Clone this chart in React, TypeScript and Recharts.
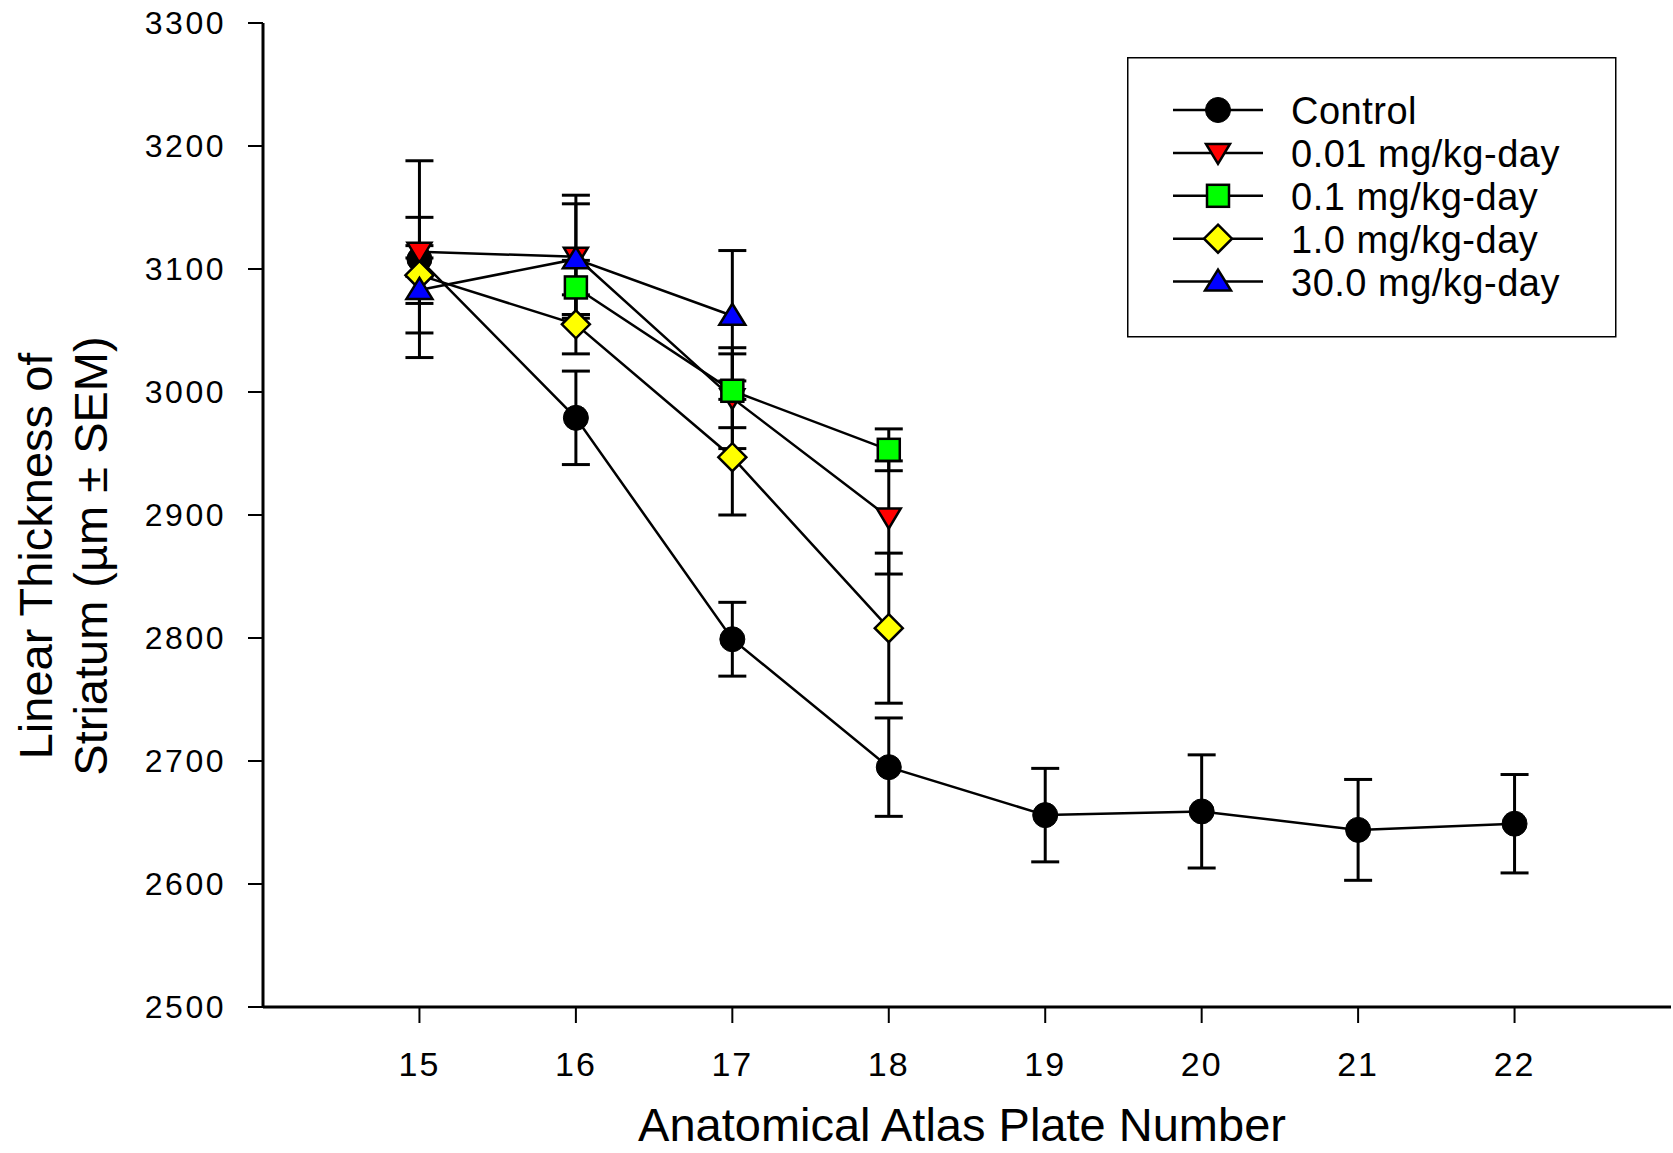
import { LineChart, Line, XAxis, YAxis, ErrorBar, Legend } from 'recharts'

const FONT = '"Liberation Sans", Arial, Helvetica, sans-serif'

// plate numbers on the x axis
const plates = [15, 16, 17, 18, 19, 20, 21, 22]
const yTicks = [2500, 2600, 2700, 2800, 2900, 3000, 3100, 3200, 3300]

// means and SEM (µm)
const control = [3108, 2979, 2799, 2695, 2656, 2659, 2644, 2649]
const controlSem = [80, 38, 30, 40, 38, 46, 41, 40]
const dose001 = [3114, 3110, 2995, 2898]
const dose001Sem = [5, 50, 41, 46]
const dose01 = [null, 3085, 3001, 2953]
const dose01Sem = [null, 22, 30, 17]
const dose1 = [3095, 3055, 2947, 2808]
const dose1Sem = [47, 24, 47, 61]
const dose30 = [3083, 3108, 3062]
const dose30Sem = [11, 45, 53]

type Shape = 'circle' | 'triangleDown' | 'square' | 'diamond' | 'triangleUp'

const series: { key: string; name: string; shape: Shape; fill: string }[] = [
  { key: 'control', name: 'Control', shape: 'circle', fill: '#000000' },
  { key: 'd001', name: '0.01 mg/kg-day', shape: 'triangleDown', fill: '#ff0000' },
  { key: 'd01', name: '0.1 mg/kg-day', shape: 'square', fill: '#00ff00' },
  { key: 'd1', name: '1.0 mg/kg-day', shape: 'diamond', fill: '#ffff00' },
  { key: 'd30', name: '30.0 mg/kg-day', shape: 'triangleUp', fill: '#0000ff' },
]

const rows = plates.map((p, i) => ({
  plate: p,
  control: control[i] ?? null, controlSem: controlSem[i] ?? null,
  d001: dose001[i] ?? null, d001Sem: dose001Sem[i] ?? null,
  d01: dose01[i] ?? null, d01Sem: dose01Sem[i] ?? null,
  d1: dose1[i] ?? null, d1Sem: dose1Sem[i] ?? null,
  d30: dose30[i] ?? null, d30Sem: dose30Sem[i] ?? null,
}))

function Marker({ cx, cy, shape, fill }: { cx: number; cy: number; shape: Shape; fill: string }) {
  const st = { stroke: '#000', strokeWidth: 2.5, strokeLinejoin: 'miter' as const }
  switch (shape) {
    case 'circle':
      return <circle cx={cx} cy={cy} r={12.5} fill={fill} stroke="#000" strokeWidth={1} />
    case 'triangleDown':
      return <polygon points={`${cx - 12},${cy - 9} ${cx + 12},${cy - 9} ${cx},${cy + 11}`} fill={fill} {...st} />
    case 'square':
      return <rect x={cx - 11} y={cy - 11} width={22} height={22} fill={fill} {...st} />
    case 'diamond':
      return <polygon points={`${cx},${cy - 14} ${cx + 14},${cy} ${cx},${cy + 14} ${cx - 14},${cy}`} fill={fill} {...st} />
    default:
      return <polygon points={`${cx - 13},${cy + 9} ${cx + 13},${cy + 9} ${cx},${cy - 12}`} fill={fill} {...st} />
  }
}

function makeDot(shape: Shape, fill: string) {
  return (props: any) => {
    const { cx, cy, index, value } = props
    if (cy == null || cx == null || value == null) return <g key={`e${index}`} />
    return <Marker key={`m${index}`} cx={cx} cy={cy} shape={shape} fill={fill} />
  }
}

function YTick(props: any) {
  const { x, y, payload } = props
  return (
    <text x={x} y={y} textAnchor="end" dominantBaseline="central" fontFamily={FONT} fontSize={32} letterSpacing={2.5} fill="#000">
      {payload.value}
    </text>
  )
}

function XTick(props: any) {
  const { x, y, payload } = props
  return (
    <text x={x} y={y + 51} textAnchor="middle" fontFamily={FONT} fontSize={34} letterSpacing={2} fill="#000">
      {payload.value}
    </text>
  )
}

function XTitle(props: any) {
  const vb = props.viewBox
  return (
    <text x={vb.x + vb.width / 2 - 5} y={vb.y + vb.height - 12} textAnchor="middle" fontFamily={FONT} fontSize={47} fill="#000">
      Anatomical Atlas Plate Number
    </text>
  )
}

function YTitle(props: any) {
  const vb = props.viewBox
  const cy = vb.y + vb.height / 2 + 41
  return (
    <g fontFamily={FONT} fontSize={47} fill="#000">
      <text transform={`translate(52, ${cy}) rotate(-90)`} textAnchor="middle">Linear Thickness of</text>
      <text transform={`translate(107, ${cy}) rotate(-90)`} textAnchor="middle">Striatum (µm ± SEM)</text>
    </g>
  )
}

function LegendBox() {
  return (
    <svg width={490} height={281} style={{ display: 'block' }}>
      <rect x={0.75} y={0.75} width={488} height={279} fill="#fff" stroke="#000" strokeWidth={1.5} />
      {series.map((s, i) => {
        const cy = 53 + i * 42.9
        return (
          <g key={s.key}>
            <line x1={46} x2={136} y1={cy} y2={cy} stroke="#000" strokeWidth={2.5} />
            <Marker cx={91} cy={cy} shape={s.shape} fill={s.fill} />
            <text x={164} y={cy + 14} fontFamily={FONT} fontSize={38} letterSpacing={0.5} fill="#000">{s.name}</text>
          </g>
        )
      })}
    </svg>
  )
}

export default function App() {
  return (
    <div style={{ width: 1673, height: 1153, background: '#fff' }}>
      <style>{'body{margin:0;background:#fff}'}</style>
      <LineChart width={1673} height={1153} data={rows} margin={{ top: 23, right: 2, bottom: 0, left: 0 }}>
        <XAxis xAxisId="top" orientation="top" type="number" dataKey="plate" domain={[14, 23]}
          height={0} tick={false} tickLine={false} axisLine={{ stroke: '#000', strokeWidth: 2 }} />
        <YAxis yAxisId="right" orientation="right" type="number" domain={[2500, 3300]}
          width={0} tick={false} tickLine={false} axisLine={{ stroke: '#000', strokeWidth: 2 }} />
        <XAxis type="number" dataKey="plate" domain={[14, 23]} ticks={plates} interval={0}
          height={146} tickSize={16} tickMargin={2} tick={<XTick />}
          axisLine={{ stroke: '#000', strokeWidth: 3 }} tickLine={{ stroke: '#000', strokeWidth: 2 }}
          label={<XTitle />} />
        <YAxis type="number" domain={[2500, 3300]} ticks={yTicks} interval={0}
          width={263} tickSize={15} tickMargin={22} tick={<YTick />}
          axisLine={{ stroke: '#000', strokeWidth: 3 }} tickLine={{ stroke: '#000', strokeWidth: 2 }}
          label={<YTitle />} />
        {series.map(s => (
          <Line key={s.key} type="linear" dataKey={s.key} name={s.name} stroke="#000" strokeWidth={2.5}
            dot={makeDot(s.shape, s.fill)} activeDot={false} isAnimationActive={false} connectNulls={false}>
            <ErrorBar dataKey={`${s.key}Sem`} direction="y" width={14} stroke="#000" strokeWidth={3} />
          </Line>
        ))}
        <Legend layout="vertical" align="center" verticalAlign="middle" content={<LegendBox />}
          wrapperStyle={{ left: 1127, top: 57, width: 490, height: 281 }} />
      </LineChart>
    </div>
  )
}
